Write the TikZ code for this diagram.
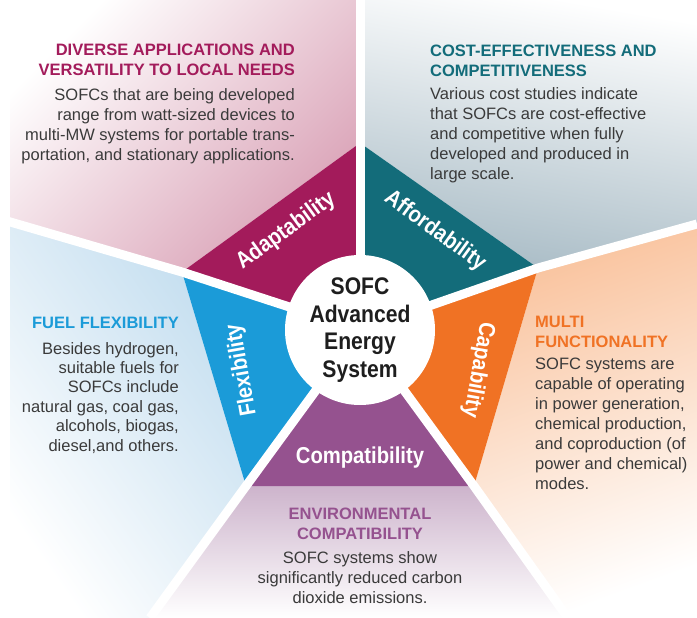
\documentclass[tikz,border=0pt]{standalone}
\usepackage{fontspec}
\setmainfont{Liberation Sans}
\newfontfamily\condfont[FakeStretch=0.88]{Liberation Sans}
\usetikzlibrary{positioning}
\definecolor{adaptcol}{HTML}{A31B5B}
\definecolor{affordcol}{HTML}{136C7A}
\definecolor{capabcol}{HTML}{F07224}
\definecolor{compatcol}{HTML}{95528F}
\definecolor{flexcol}{HTML}{1B9BD8}
\definecolor{adaptfade}{HTML}{D9A0B5}
\definecolor{affordfade}{HTML}{A9BCC6}
\definecolor{capabfade}{HTML}{F9C29C}
\definecolor{compatfade}{HTML}{CDB4CC}
\definecolor{flexfade}{HTML}{C2DDEF}
\definecolor{bodycol}{HTML}{3A3A3A}
\definecolor{corecol}{HTML}{1E1E1E}
\tikzstyle{head} = [inner sep=0pt, font=\fontsize{16.5}{19.6}\selectfont\bfseries]
\tikzstyle{body} = [inner sep=0pt, text=bodycol, font=\fontsize{16.5}{20}\selectfont]
\tikzstyle{seglabel} = [inner sep=0pt, text=white, font=\condfont\bfseries\fontsize{23}{26}\selectfont]
\tikzstyle{gap} = [white, line width=9pt]

\begin{document}
\begin{tikzpicture}[x=1pt, y=-1pt]
  %画布范围
  \useasboundingbox (0,0) rectangle (697,618);
  \fill[white] (0,0) rectangle (697,618);

  %五边形顶点和分隔线端点
  \coordinate (O) at (360,330);
  \coordinate (T) at (360,143);
  \coordinate (UL) at (182,272);
  \coordinate (BL) at (246,486);
  \coordinate (BR) at (474,486);
  \coordinate (UR) at (538,268);
  \coordinate (Tend) at (360,0);
  \coordinate (ULend) at (0,219);
  \coordinate (URend) at (697,224);
  \coordinate (BLend) at (150,618);
  \coordinate (BRend) at (568,618);

  %外围渐变区域
  \shade[top color=white, bottom color=adaptfade, shading angle=45] (T) -- (Tend) -- (10,0) -- (10,221) -- (UL) -- cycle;
  \shade[top color=white, bottom color=affordfade, shading angle=-10] (UR) -- (URend) -- (697,0) -- (Tend) -- (T) -- cycle;
  \shade[top color=white, bottom color=capabfade, shading angle=-160] (BR) -- (BRend) -- (697,618) -- (URend) -- (UR) -- cycle;
  \shade[top color=white, bottom color=compatfade, shading angle=180] (BL) -- (BLend) -- (BRend) -- (BR) -- cycle;
  \shade[top color=white, bottom color=flexfade, shading angle=125] (UL) -- (10,221) -- (10,618) -- (BLend) -- (BL) -- cycle;

  %五边形色块
  \fill[adaptcol] (O) -- (UL) -- (T) -- cycle;
  \fill[affordcol] (O) -- (T) -- (UR) -- cycle;
  \fill[capabcol] (O) -- (UR) -- (BR) -- cycle;
  \fill[compatcol] (O) -- (BR) -- (BL) -- cycle;
  \fill[flexcol] (O) -- (BL) -- (UL) -- cycle;

  %白色分隔线
  \draw[gap] (O) -- (T) -- (Tend);
  \draw[gap] (O) -- (UL) -- (ULend);
  \draw[gap] (O) -- (UR) -- (URend);
  \draw[gap] (O) -- (BL) -- (BLend);
  \draw[gap] (O) -- (BR) -- (BRend);

  %中心圆
  \fill[white] (O) circle[radius=75pt];
  \node[inner sep=0pt, align=center, text=corecol, font=\condfont\bfseries\fontsize{24}{27.5}\selectfont] (core) at (O) {SOFC\\Advanced\\Energy\\System};

  %色块文字
  \node[seglabel, rotate=36] (adapt) at (286,231) {Adaptability};
  \node[seglabel, rotate=-36] (afford) at (435,231) {Affordability};
  \node[seglabel, rotate=-100] (capab) at (478,370) {Capability};
  \node[seglabel] (compat) at (360,458) {Compatibility};
  \node[seglabel, rotate=100] (flex) at (242,370) {Flexibility};

  %说明文字
  \node[head, text=adaptcol, align=right, anchor=north east] (headAdapt) at (295,44) {DIVERSE APPLICATIONS AND\\VERSATILITY TO LOCAL NEEDS};
  \node[body, align=right, below left=13pt and 0pt of headAdapt.south east] (bodyAdapt) {SOFCs that are being developed\\range from watt-sized devices to\\multi-MW systems for portable trans-\\portation, and stationary applications.};

  \node[head, text=affordcol, align=left, anchor=north west] (headAfford) at (430,45) {COST-EFFECTIVENESS AND\\COMPETITIVENESS};
  \node[body, align=left, below right=11pt and 0pt of headAfford.south west] (bodyAfford) {Various cost studies indicate\\that SOFCs are cost-effective\\and competitive when fully\\developed and produced in\\large scale.};

  \node[head, text=flexcol, anchor=north east] (headFlex) at (179,317) {FUEL FLEXIBILITY};
  \node[body, align=right, font=\fontsize{16.5}{19.4}\selectfont, below left=13pt and 0pt of headFlex.south east] (bodyFlex) {Besides hydrogen,\\suitable fuels for\\SOFCs include\\natural gas, coal gas,\\alcohols, biogas,\\diesel,and others.};

  \node[head, text=capabcol, align=left, anchor=north west] (headCapab) at (535,316) {MULTI\\FUNCTIONALITY};
  \node[body, align=left, below right=10pt and 0pt of headCapab.south west] (bodyCapab) {SOFC systems are\\capable of operating\\in power generation,\\chemical production,\\and coproduction (of\\power and chemical)\\modes.};

  \node[head, text=compatcol, align=center, anchor=north] (headCompat) at (360,508) {ENVIRONMENTAL\\COMPATIBILITY};
  \node[body, align=center, below=12pt of headCompat] (bodyCompat) {SOFC systems show\\significantly reduced carbon\\dioxide emissions.};
\end{tikzpicture}
\end{document}
